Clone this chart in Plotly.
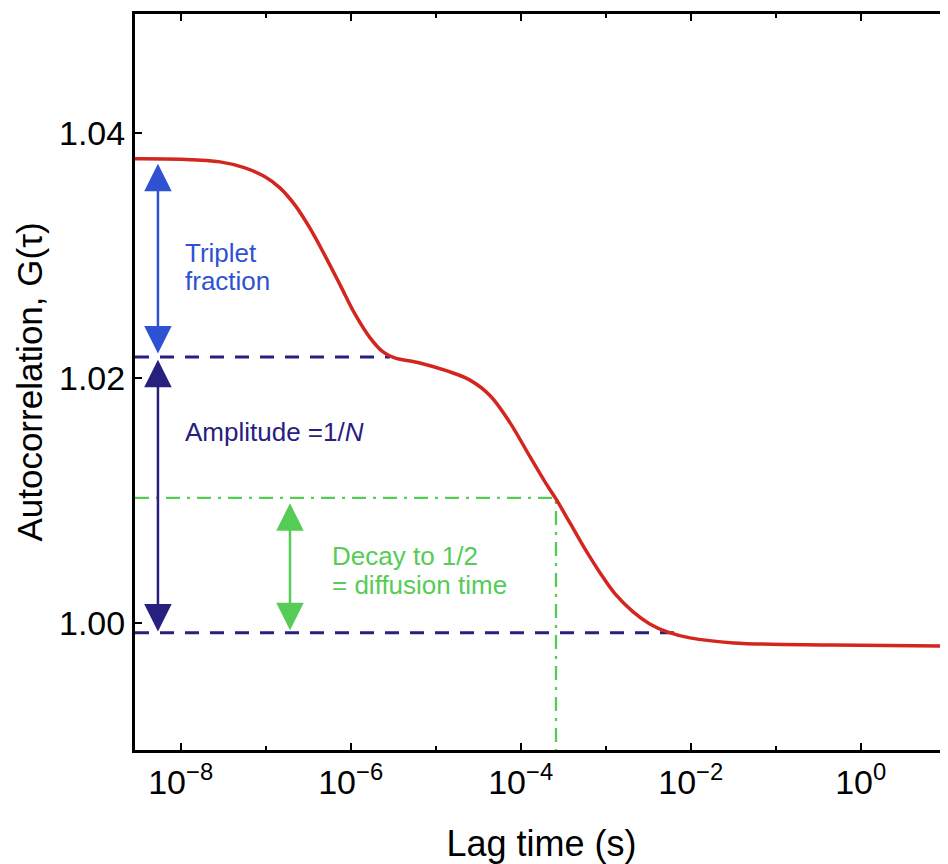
import plotly.graph_objects as go
import math

# ---- data ----
# autocorrelation curve: lag time (s) and G(tau)
lag_time = [2.9e-9, 1.0e-8, 2.9e-8, 5.7e-8, 9.8e-8, 1.47e-7, 2.2e-7, 3.3e-7, 5.0e-7,
            7.5e-7, 1.12e-6, 1.69e-6, 2.4e-6, 3.3e-6, 6.5e-6, 1.36e-5, 2.5e-5, 4.4e-5,
            7.5e-5, 1.29e-4, 1.93e-4, 2.6e-4, 3.8e-4, 5.7e-4, 8.6e-4, 1.29e-3, 2.1e-3,
            3.3e-3, 5.3e-3, 9.8e-3, 3.2e-2, 0.47, 10.6]
g_tau = [1.03788, 1.03784, 1.03763, 1.03714, 1.03641, 1.03551, 1.03412, 1.03224, 1.02996,
         1.02759, 1.02522, 1.02327, 1.02212, 1.02163, 1.02122, 1.02057, 1.01984, 1.01853,
         1.01633, 1.01355, 1.01151, 1.01012, 1.00816, 1.00604, 1.00408, 1.00237, 1.00090,
         0.99992, 0.99927, 0.99878, 0.99837, 0.99820, 0.99812]

# reference levels
x_start = 2.9e-9
x_end = 10.64
triplet_level = 1.0217
triplet_end = 2.9e-6
baseline_level = 0.9992
baseline_end = 7.4e-3
half_level = 1.0102
diffusion_time = 2.6e-4
y_bottom = 0.98963
y_top = 1.0497

# double arrows: x position, top tip, bottom tip
triplet_arrow = (5.4e-9, 1.0376, 1.0220)
amplitude_arrow = (5.4e-9, 1.0216, 0.9993)
decay_arrow = (1.93e-7, 1.0099, 0.9994)

# ticks
x_tickvals = [1e-8, 1e-6, 1e-4, 1e-2, 1]
x_ticktext = ["10<sup>\u22128</sup>", "10<sup>\u22126</sup>", "10<sup>\u22124</sup>",
              "10<sup>\u22122</sup>", "10<sup>0</sup>"]
x_minor = [1e-7, 1e-5, 1e-3, 1e-1, 10]
y_tickvals = [1.00, 1.02, 1.04]
y_ticktext = ["1.00", "1.02", "1.04"]

RED = "#d3261f"
BLUE = "#2f52d2"
NAVY = "#27207e"
GREEN = "#55cc55"
FONT = "Liberation Sans, Arial, Helvetica, sans-serif"

fig = go.Figure()

# dashed navy reference lines
fig.add_trace(go.Scatter(x=[x_start, triplet_end], y=[triplet_level, triplet_level],
                         mode="lines", line=dict(color=NAVY, width=3, dash="14px,11px"),
                         hoverinfo="skip", showlegend=False))
fig.add_trace(go.Scatter(x=[x_start, baseline_end], y=[baseline_level, baseline_level],
                         mode="lines", line=dict(color=NAVY, width=3, dash="14px,11px"),
                         hoverinfo="skip", showlegend=False))
# green dash-dot lines (half decay)
fig.add_trace(go.Scatter(x=[x_start, diffusion_time, diffusion_time],
                         y=[half_level, half_level, y_bottom],
                         mode="lines", line=dict(color=GREEN, width=2.3, dash="14px,7px,3px,7px"),
                         hoverinfo="skip", showlegend=False))
# curve
fig.add_trace(go.Scatter(x=lag_time, y=g_tau, mode="lines",
                         line=dict(color=RED, width=3.5, shape="spline", smoothing=1.0),
                         showlegend=False))

annotations = []
for (xa, ytop, ybot), col in [(triplet_arrow, BLUE), (amplitude_arrow, NAVY), (decay_arrow, GREEN)]:
    annotations.append(dict(x=math.log10(xa), y=ybot, ax=math.log10(xa), ay=ytop,
                            xref="x", yref="y", axref="x", ayref="y", text="",
                            showarrow=True, arrowhead=2, startarrowhead=2,
                            arrowside="end+start", arrowsize=2.2, startarrowsize=2.2,
                            arrowwidth=2.5, arrowcolor=col, standoff=0, startstandoff=0))

def label(text, xval, yval, color):
    return dict(x=math.log10(xval), y=yval, xref="x", yref="y", text=text, showarrow=False,
                xanchor="left", yanchor="middle", font=dict(family=FONT, size=26, color=color))

annotations += [
    label("Triplet", 1.05e-8, 1.0302, BLUE),
    label("fraction", 1.05e-8, 1.0279, BLUE),
    label("Amplitude =1/<i>N</i>", 1.05e-8, 1.0156, NAVY),
    label("Decay to 1/2", 5.7e-7, 1.0055, GREEN),
    label("= diffusion time", 5.7e-7, 1.0031, GREEN),
]

# the page body adds an 8px offset; figure is sized so the plot reaches the window edge
fig.update_layout(
    width=940, height=856,
    margin=dict(l=127, r=0, t=6, b=114),
    paper_bgcolor="white", plot_bgcolor="white",
    font=dict(family=FONT, size=34, color="black"),
    annotations=annotations,
    xaxis=dict(type="log", range=[math.log10(x_start), math.log10(x_end)],
               tickmode="array", tickvals=x_tickvals, ticktext=x_ticktext,
               ticks="inside", ticklen=7, tickwidth=2, tickcolor="black",
               showline=True, linewidth=3, linecolor="black", mirror="ticks",
               showgrid=False, zeroline=False,
               minor=dict(tickmode="array", tickvals=x_minor, ticks="inside",
                          ticklen=4, tickwidth=1.5, tickcolor="black"),
               title=dict(text="Lag time (s)", font=dict(size=36), standoff=32)),
    yaxis=dict(range=[y_bottom, y_top], tickmode="array", tickvals=y_tickvals,
               ticktext=y_ticktext, ticks="inside", ticklen=7, tickwidth=2,
               tickcolor="black", showline=True, linewidth=3, linecolor="black",
               mirror=False, showgrid=False, zeroline=False,
               title=dict(text="Autocorrelation, G(\u03c4)", font=dict(size=35), standoff=6)),
)

fig.write_html("out.html")
